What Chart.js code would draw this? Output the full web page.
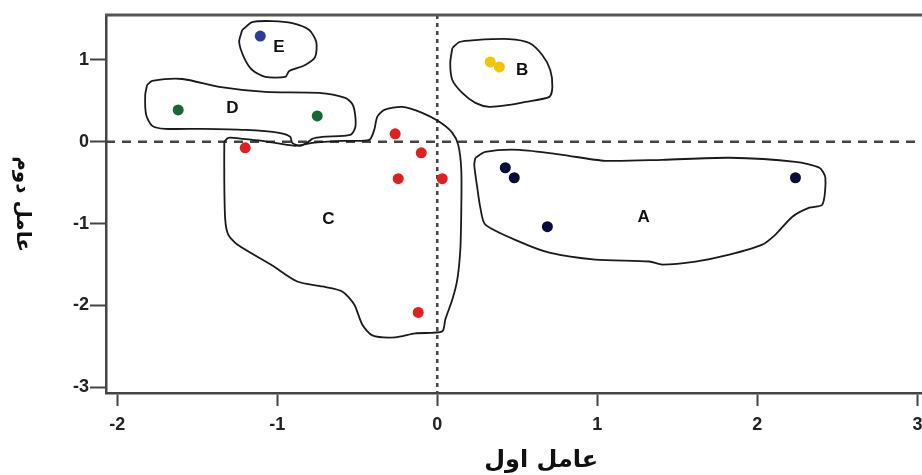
<!DOCTYPE html>
<html lang="fa">
<head>
<meta charset="UTF-8">
<title>Cluster plot</title>
<script src="https://cdn.jsdelivr.net/npm/chart.js"></script>
<style>
  html, body { margin: 0; padding: 0; background: #fff; overflow: hidden; }
  .chart-box { position: relative; width: 960px; height: 475px; }
</style>
</head>
<body>
<div class="chart-box"><canvas id="clusterChart"></canvas></div>
<script>
// axis text and ticks
const xTitle = 'عامل اول';
const yTitle = 'عامل دوم';
const xTicks = [-2, -1, 0, 1, 2, 3];
const yTicks = [-3, -2, -1, 0, 1];

// group names and label positions [x, y]
const groupNames = ['A', 'B', 'C', 'D', 'E'];
const labelPos = [[1.29, -0.92], [0.53, 0.88], [-0.68, -0.95], [-1.28, 0.41], [-0.99, 1.15]];
const groupColors = ['#0b0b3b', '#f2c500', '#e0201e', '#17692f', '#2d3c96'];

// points per group [x, y]
const pointsA = [[0.425, -0.317], [0.481, -0.439], [0.688, -1.037], [2.238, -0.439]];
const pointsB = [[0.331, 0.976], [0.388, 0.915]];
const pointsC = [[-1.2, -0.073], [-0.263, 0.098], [-0.1, -0.134], [-0.244, -0.451], [0.031, -0.451], [-0.119, -2.085]];
const pointsD = [[-1.619, 0.39], [-0.75, 0.317]];
const pointsE = [[-1.106, 1.293]];

// hand drawn cluster outlines [x, y]
const outlineA = [[0.238, -0.195], [0.3, -0.122], [0.513, -0.098], [0.781, -0.159], [1.05, -0.232], [1.406, -0.22],
  [1.825, -0.195], [2.238, -0.244], [2.388, -0.317], [2.425, -0.439], [2.406, -0.768], [2.325, -0.805],
  [2.219, -0.915], [2.113, -1.134], [2.031, -1.256], [1.825, -1.378], [1.613, -1.463], [1.406, -1.5],
  [1.325, -1.463], [0.988, -1.439], [0.7, -1.354], [0.513, -1.22], [0.3, -1.012], [0.269, -0.805],
  [0.25, -0.561], [0.231, -0.28]];
const outlineB = [[0.094, 1.146], [0.138, 1.22], [0.238, 1.244], [0.45, 1.256], [0.575, 1.207], [0.656, 1.061],
  [0.706, 0.878], [0.719, 0.671], [0.7, 0.549], [0.55, 0.488], [0.45, 0.451], [0.325, 0.427], [0.238, 0.476],
  [0.156, 0.598], [0.094, 0.756], [0.081, 0.963]];
const outlineC = [[-1.331, 0], [-1.306, 0.049], [-1.219, 0.037], [-1.094, 0.012], [-0.888, -0.049], [-0.781, -0.012],
  [-0.594, 0.012], [-0.425, 0.024], [-0.394, 0.146], [-0.375, 0.305], [-0.331, 0.39], [-0.219, 0.427],
  [-0.094, 0.354], [0.013, 0.244], [0.094, 0.11], [0.131, -0.037], [0.15, -0.341], [0.15, -0.829],
  [0.144, -1.317], [0.125, -1.683], [0.094, -1.927], [0.05, -2.171], [0.031, -2.317], [-0.138, -2.341],
  [-0.263, -2.39], [-0.406, -2.366], [-0.469, -2.232], [-0.519, -1.988], [-0.594, -1.829], [-0.719, -1.768],
  [-0.875, -1.707], [-1.031, -1.512], [-1.25, -1.256], [-1.306, -1.134], [-1.325, -0.951], [-1.331, -0.463]];
const outlineD = [[-1.813, 0.695], [-1.781, 0.744], [-1.594, 0.768], [-1.363, 0.671], [-1.075, 0.61], [-0.738, 0.598],
  [-0.575, 0.537], [-0.531, 0.463], [-0.513, 0.329], [-0.513, 0.171], [-0.544, 0.085], [-0.719, 0.061],
  [-0.781, 0.037], [-0.813, -0.012], [-0.856, -0.049], [-0.906, -0.012], [-0.919, 0.061], [-0.988, 0.11],
  [-1.2, 0.146], [-1.469, 0.159], [-1.7, 0.159], [-1.781, 0.195], [-1.819, 0.329], [-1.825, 0.573]];
const outlineE = [[-1.219, 1.366], [-1.156, 1.463], [-1.031, 1.476], [-0.906, 1.451], [-0.8, 1.366], [-0.756, 1.22],
  [-0.763, 1.037], [-0.825, 0.939], [-0.925, 0.866], [-0.95, 0.793], [-1.075, 0.793], [-1.156, 0.878],
  [-1.206, 1.024], [-1.238, 1.22]];

const allPoints = [pointsA, pointsB, pointsC, pointsD, pointsE];
const allOutlines = [outlineA, outlineB, outlineC, outlineD, outlineE];

const toXY = arr => arr.map(p => ({ x: p[0], y: p[1] }));

const datasets = [];
allPoints.forEach((pts, i) => {
    datasets.push({
        label: groupNames[i],
        data: toXY(pts),
        backgroundColor: groupColors[i],
        borderWidth: 0,
        pointRadius: 5.5,
        showLine: false,
        order: 0
    });
});
allOutlines.forEach((pts, i) => {
    datasets.push({
        label: groupNames[i] + ' outline',
        data: toXY(pts.concat([pts[0]])),
        borderColor: '#1a1a1a',
        borderWidth: 1.8,
        pointRadius: 0,
        showLine: true,
        fill: false,
        tension: 0.25,
        order: 1
    });
});

const decor = {
    id: 'decor',
    beforeDatasetsDraw(chart) {
        const { ctx, chartArea: a, scales: { x, y } } = chart;
        ctx.save();
        ctx.strokeStyle = '#444';
        ctx.lineWidth = 2.5;
        const y0 = y.getPixelForValue(0);
        ctx.setLineDash([9, 7]);
        ctx.beginPath(); ctx.moveTo(a.left, y0); ctx.lineTo(a.right, y0); ctx.stroke();
        const x0 = x.getPixelForValue(0);
        ctx.setLineDash([4, 4]);
        ctx.beginPath(); ctx.moveTo(x0, a.top); ctx.lineTo(x0, a.bottom); ctx.stroke();
        ctx.restore();
    },
    afterDatasetsDraw(chart) {
        const { ctx, scales: { x, y } } = chart;
        ctx.save();
        ctx.fillStyle = '#111';
        ctx.font = 'bold 17px Arial, "Liberation Sans", sans-serif';
        ctx.textAlign = 'center';
        ctx.textBaseline = 'middle';
        groupNames.forEach((name, i) => {
            ctx.fillText(name, x.getPixelForValue(labelPos[i][0]), y.getPixelForValue(labelPos[i][1]));
        });
        ctx.restore();
    },
    afterDraw(chart) {
        const { ctx, chartArea: a } = chart;
        ctx.save();
        // top frame line
        ctx.strokeStyle = '#555';
        ctx.lineWidth = 3;
        ctx.beginPath(); ctx.moveTo(a.left - 1, a.top); ctx.lineTo(a.right, a.top); ctx.stroke();
        // axis titles
        ctx.fillStyle = '#111';
        ctx.textAlign = 'center';
        ctx.textBaseline = 'middle';
        ctx.font = 'bold 24px "DejaVu Sans", sans-serif';
        ctx.fillText(xTitle, a.left + (a.right - a.left) * 0.525, 461);
        ctx.font = 'bold 20px "DejaVu Sans", sans-serif';
        ctx.translate(22, (a.top + a.bottom) / 2);
        ctx.rotate(Math.PI / 2);
        ctx.fillText(yTitle, 0, 0);
        ctx.restore();
    }
};

const tickFont = { family: 'Arial, "Liberation Sans", sans-serif', size: 18, weight: 'bold' };

new Chart(document.getElementById('clusterChart').getContext('2d'), {
    type: 'scatter',
    data: { datasets: datasets },
    options: {
        responsive: true,
        maintainAspectRatio: false,
        animation: false,
        layout: { padding: { top: 15, right: 25, left: 0, bottom: 0 } },
        plugins: {
            legend: { display: false },
            tooltip: { enabled: false }
        },
        scales: {
            x: {
                type: 'linear',
                min: -2.07,
                max: 3.11,
                afterBuildTicks: s => { s.ticks = xTicks.map(v => ({ value: v })); },
                afterFit: s => { s.height = 82; },
                ticks: { font: tickFont, color: '#222', padding: 8, maxRotation: 0 },
                grid: { drawOnChartArea: false, drawTicks: true, tickLength: 13, tickColor: '#444', tickWidth: 2 },
                border: { color: '#444', width: 2.5 }
            },
            y: {
                type: 'linear',
                min: -3.07,
                max: 1.55,
                afterBuildTicks: s => { s.ticks = yTicks.map(v => ({ value: v })); },
                afterFit: s => { s.width = 106; },
                ticks: { font: tickFont, color: '#222', padding: 1 },
                grid: { drawOnChartArea: false, drawTicks: true, tickLength: 16, tickColor: '#444', tickWidth: 2 },
                border: { color: '#444', width: 2.5 }
            }
        }
    },
    plugins: [decor]
});
</script>
</body>
</html>
